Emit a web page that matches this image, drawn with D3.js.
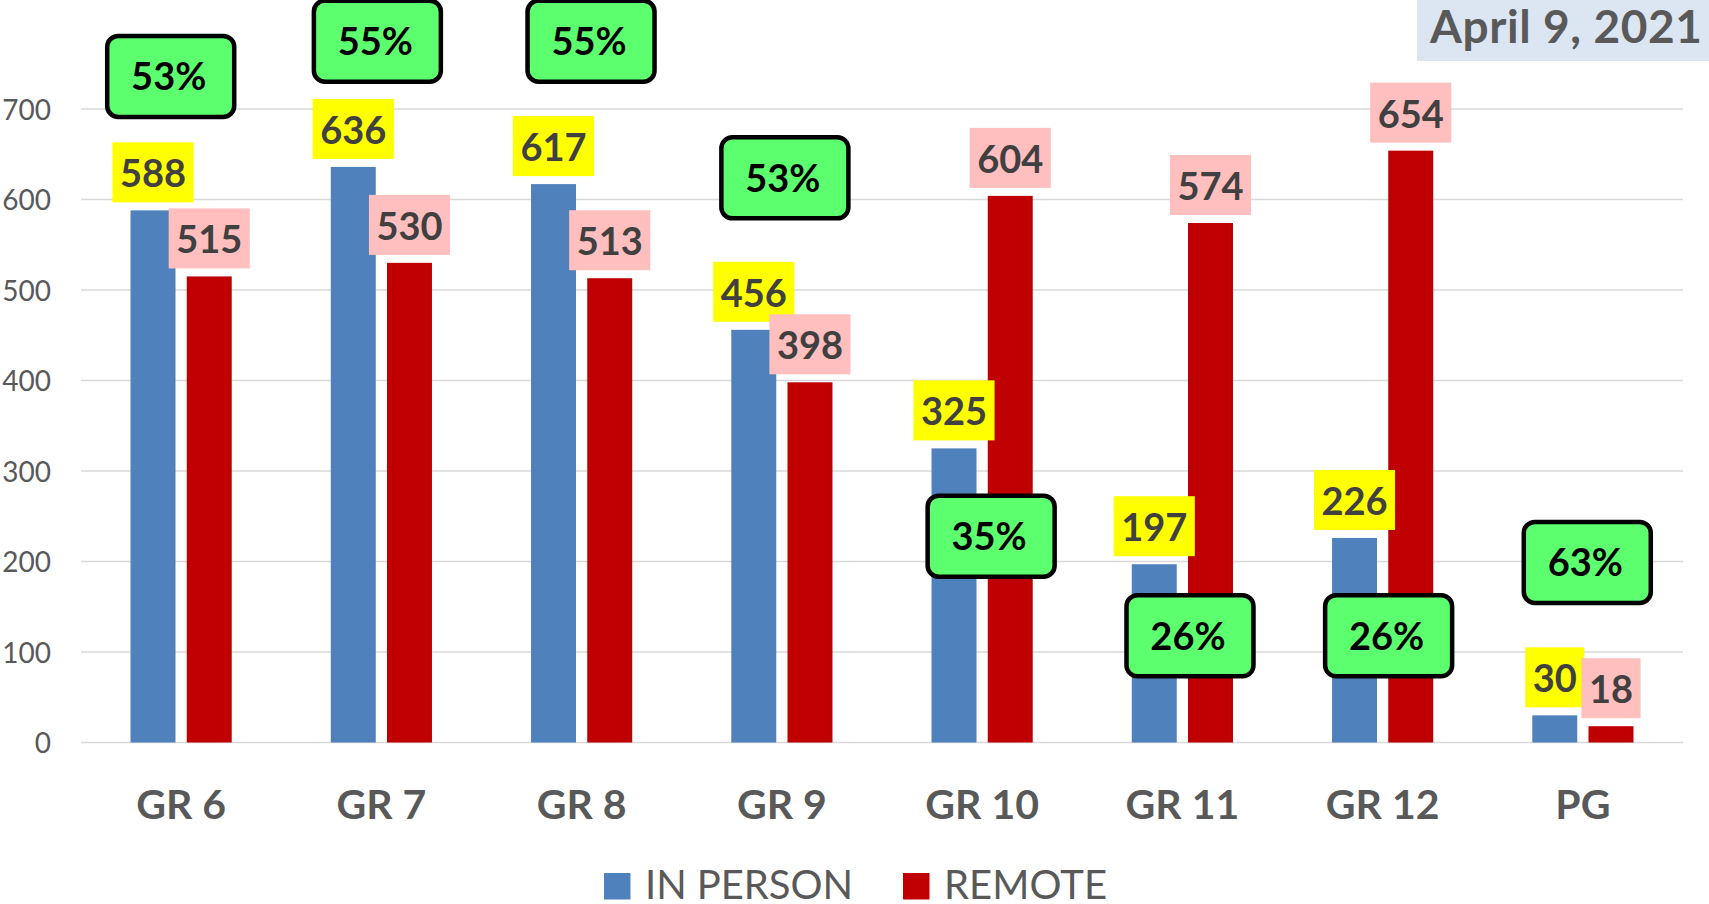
<!DOCTYPE html>
<html>
<head>
<meta charset="utf-8">
<script src="https://cdn.jsdelivr.net/npm/d3@7"></script>
<style>
  html, body { margin: 0; padding: 0; background: #fff; }
  svg { display: block; }
  text { font-family: Lato, "Open Sans", sans-serif; }
</style>
</head>
<body>
<svg id="chart" width="1709" height="904"></svg>
<script>
// ---- data ----
const categories = ["GR 6", "GR 7", "GR 8", "GR 9", "GR 10", "GR 11", "GR 12", "PG"];
const seriesNames = ["IN PERSON", "REMOTE"];
const inPerson = [588, 636, 617, 456, 325, 197, 226, 30];
const remote   = [515, 530, 513, 398, 604, 574, 654, 18];
const pctLabels = ["53%", "55%", "55%", "53%", "35%", "26%", "26%", "63%"];
const yTicks = [0, 100, 200, 300, 400, 500, 600, 700];
const dateLabel = "April 9, 2021";

// annotation anchors (in data units / band fraction) for the percentage callouts
const pctAnchorValue = [736, 775, 775, 624, 228, 118, 118, 199];
const pctAnchorShift = [-0.052, -0.02, 0.047, 0.015, 0.045, 0.038, 0.03, 0.022];

// ---- layout ----
const W = 1709, H = 904;
const plot = { left: 81, right: 1683, top: 109, bottom: 742.5 };
const colors = { "IN PERSON": "#4F81BD", "REMOTE": "#C00000" };
const labelFill = { "IN PERSON": "#FFFF00", "REMOTE": "#FFBFBF" };

const svg = d3.select("#chart");

// stretch a text to a target width via letter-spacing
function fitWidth(t, target) {
  const n = t.text().length;
  const w = t.node().getComputedTextLength();
  if (n > 1) t.attr("letter-spacing", (target - w) / (n - 1));
}

const x0 = d3.scaleBand().domain(categories).range([plot.left, plot.right]).padding(0);
const bw = x0.bandwidth();
const x1 = d3.scaleBand().domain(seriesNames)
  .range([bw / 2 - 50.6, bw / 2 + 50.6]).paddingInner(0.2).paddingOuter(0);
const y = d3.scaleLinear().domain([0, 700]).range([plot.bottom, plot.top]);

// gridlines
svg.append("g").selectAll("line").data(yTicks).join("line")
  .attr("x1", plot.left).attr("x2", plot.right)
  .attr("y1", d => y(d)).attr("y2", d => y(d))
  .attr("stroke", "#D9D9D9").attr("stroke-width", 1.5);

// y axis labels
const yAxis = d3.axisLeft(y).tickValues(yTicks).tickSize(0).tickPadding(0);
const gy = svg.append("g").attr("transform", `translate(${51},0)`).call(yAxis);
gy.select(".domain").remove();
gy.selectAll("text")
  .attr("font-family", "Lato, sans-serif")
  .attr("font-size", 28).attr("fill", "#595959")
  .attr("dy", "0.36em");

// x axis labels
const xAxis = d3.axisBottom(x0).tickSize(0).tickPadding(0);
const gx = svg.append("g").attr("transform", `translate(0,${819})`).call(xAxis);
gx.select(".domain").remove();
gx.selectAll("text")
  .attr("font-family", "Lato, sans-serif")
  .attr("font-size", 41).attr("font-weight", "bold").attr("fill", "#595959")
  .attr("dy", 0).attr("y", 0);

// rows
const rows = categories.map((c, i) => ({ cat: c, vals: [
  { s: "IN PERSON", v: inPerson[i] }, { s: "REMOTE", v: remote[i] } ] }));

// bars
const groups = svg.append("g").selectAll("g").data(rows).join("g")
  .attr("transform", d => `translate(${x0(d.cat)},0)`);
groups.selectAll("rect").data(d => d.vals).join("rect")
  .attr("x", d => x1(d.s)).attr("width", x1.bandwidth())
  .attr("y", d => y(d.v)).attr("height", d => y(0) - y(d.v))
  .attr("fill", d => colors[d.s]);

// value labels
const labelH = 60, labelGap = 8, padX = 7.5;
seriesNames.forEach(s => {
  const lg = svg.append("g");
  rows.forEach(r => {
    const d = r.vals.find(v => v.s === s);
    const cx = x0(r.cat) + x1(s) + x1.bandwidth() / 2;
    const bottom = y(d.v) - labelGap;
    const g = lg.append("g");
    const rect = g.append("rect").attr("fill", labelFill[s]);
    const t = g.append("text").text(d.v)
      .attr("x", cx).attr("y", bottom - 15)
      .attr("text-anchor", "middle")
      .attr("font-size", 38).attr("font-weight", "bold").attr("fill", "#404040");
    const tw = t.node().getComputedTextLength();
    rect.attr("x", cx - tw / 2 - padX).attr("width", tw + 2 * padX)
      .attr("y", bottom - labelH).attr("height", labelH);
  });
});

// percentage callouts
const pctW = 127, pctH = 81;
const pg = svg.append("g");
rows.forEach((r, i) => {
  const cx = x0(r.cat) + bw / 2 + pctAnchorShift[i] * bw;
  const cy = y(pctAnchorValue[i]);
  pg.append("rect")
    .attr("x", cx - pctW / 2).attr("y", cy - pctH / 2)
    .attr("width", pctW).attr("height", pctH)
    .attr("rx", 11).attr("ry", 11)
    .attr("fill", "#5CFF6E").attr("stroke", "#000").attr("stroke-width", 4.5);
  pg.append("text").text(pctLabels[i])
    .attr("x", cx - 2).attr("y", cy + 14)
    .attr("text-anchor", "middle")
    .attr("font-size", 38).attr("font-weight", "bold").attr("fill", "#000");
});

// date box
svg.append("rect").attr("x", 1417).attr("y", 0).attr("width", W - 1417).attr("height", 61)
  .attr("fill", "#DCE6F2");
const dateText = svg.append("text").text(dateLabel)
  .attr("x", 1430).attr("y", 42.7)
  .attr("font-size", 46).attr("font-weight", "bold").attr("fill", "#595959");
fitWidth(dateText, 272);

// legend
const legend = svg.append("g");
const legendItems = [
  { s: "IN PERSON", x: 604, w: 208 },
  { s: "REMOTE", x: 903, w: 163 }
];
legendItems.forEach(li => {
  legend.append("rect").attr("x", li.x).attr("y", 873).attr("width", 26.5).attr("height", 26.5)
    .attr("fill", colors[li.s]);
  const t = legend.append("text").text(li.s)
    .attr("x", li.x + 41).attr("y", 898.7)
    .attr("font-size", 40).attr("fill", "#595959");
  fitWidth(t, li.w);
});
</script>
</body>
</html>
